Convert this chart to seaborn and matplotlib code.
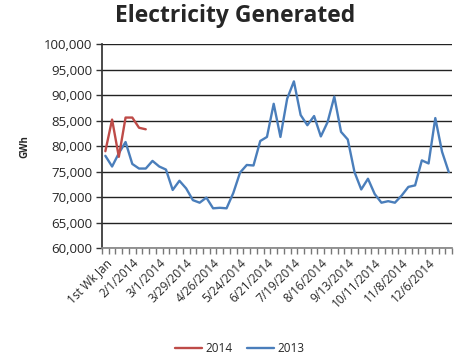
import matplotlib.pyplot as plt
import seaborn as sns
import pandas as pd
import numpy as np

sns.set_theme(style="white", rc={"xtick.bottom": True, "ytick.left": True})
plt.rcParams['font.family'] = ['Open Sans', 'DejaVu Sans']

# weekly generation, GWh
gen_2013 = [78.1, 76.0, 78.6, 80.8, 76.5, 75.6, 75.6, 77.1, 76.0, 75.4,
            71.4, 73.2, 71.7, 69.4, 68.9, 69.9, 67.8, 67.9, 67.8, 70.8,
            74.8, 76.3, 76.2, 81.0, 81.8, 88.3, 81.8, 89.3, 92.7, 86.1,
            84.1, 85.9, 81.9, 84.7, 89.7, 82.8, 81.3, 74.9, 71.5, 73.6,
            70.6, 68.9, 69.2, 68.9, 70.3, 72.0, 72.3, 77.2, 76.6, 85.5,
            78.9, 74.9]
gen_2014 = [79.0, 85.2, 77.9, 85.6, 85.6, 83.6, 83.3]

tick_labels = ["1st Wk Jan", "2/1/2014", "3/1/2014", "3/29/2014", "4/26/2014",
               "5/24/2014", "6/21/2014", "7/19/2014", "8/16/2014", "9/13/2014",
               "10/11/2014", "11/8/2014", "12/6/2014"]

df13 = pd.DataFrame({"week": np.arange(len(gen_2013)), "gwh": np.array(gen_2013) * 1000})
df14 = pd.DataFrame({"week": np.arange(len(gen_2014)), "gwh": np.array(gen_2014) * 1000})

fig = plt.figure(figsize=(4.7, 3.59), dpi=100)
ax = fig.add_axes([0.217, 0.309, 0.745, 0.568])

sns.lineplot(data=df13, x="week", y="gwh", ax=ax, color="#4A7EBB", lw=1.7, label="2013", zorder=3)
sns.lineplot(data=df14, x="week", y="gwh", ax=ax, color="#BE4B48", lw=1.7, label="2014", zorder=3)

n = len(gen_2013)
ax.set_xlim(-0.5, n - 0.5)
ax.set_ylim(60000, 100000)
ax.set_yticks(np.arange(60000, 100001, 5000))
ax.yaxis.set_major_formatter(plt.FuncFormatter(lambda v, p: f"{int(v):,}"))
ax.grid(axis="y", color="#222222", lw=1)

# category boundary ticks (major, unlabeled) + label positions (minor, no tick)
ax.xaxis.set_ticks_position("bottom")
ax.yaxis.set_ticks_position("left")
ax.set_xticks(np.arange(-0.5, n, 1))
ax.set_xticklabels([])
ax.tick_params(axis="x", which="major", length=4, width=1, color="#777777",
               bottom=True, direction="out")
ax.set_xticks(np.arange(0, n, 4), minor=True)
ax.set_xticklabels(tick_labels, minor=True, rotation=45, ha="right",
                   rotation_mode="anchor", fontsize=8.5)
ax.tick_params(axis="x", which="minor", length=0, pad=6)
ax.tick_params(axis="y", labelsize=9.5, length=4, width=1, left=True,
               color="#333333", pad=3, direction="out")

for s in ["top", "right"]:
    ax.spines[s].set_visible(False)
ax.spines["left"].set_color("#333333")
ax.spines["bottom"].set_color("#888888")

ax.set_xlabel("")
ax.set_ylabel("GWh", fontsize=7, fontweight="bold", labelpad=10)
fig.suptitle("Electricity Generated", y=0.99, fontsize=16.5, fontweight="bold")

h, l = ax.get_legend_handles_labels()
ax.get_legend().remove()
fig.legend(h[::-1], l[::-1], loc="center", bbox_to_anchor=(0.51, 0.03), ncol=2,
           frameon=False, fontsize=8.5, handlelength=2.3, handletextpad=0.3,
           columnspacing=1.2)

fig.savefig("out.png", dpi=100)
